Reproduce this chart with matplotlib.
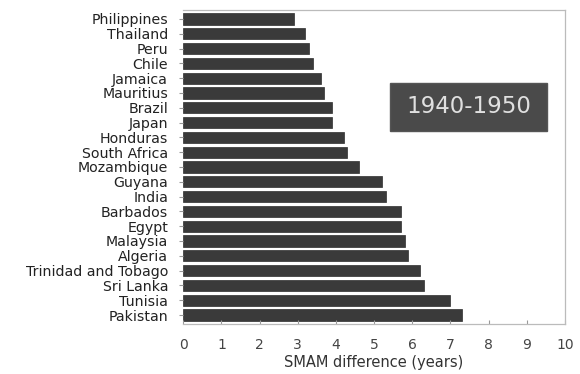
import matplotlib.pyplot as plt
from matplotlib.patches import Rectangle

# Diferencia de SMAM por país, década 1940-1950
paises = ['Philippines', 'Thailand', 'Peru', 'Chile', 'Jamaica', 'Mauritius',
          'Brazil', 'Japan', 'Honduras', 'South Africa', 'Mozambique', 'Guyana',
          'India', 'Barbados', 'Egypt', 'Malaysia', 'Algeria',
          'Trinidad and Tobago', 'Sri Lanka', 'Tunisia', 'Pakistan']
diferencia = [2.9, 3.2, 3.3, 3.4, 3.6, 3.7, 3.9, 3.9, 4.2, 4.3, 4.6, 5.2,
              5.3, 5.7, 5.7, 5.8, 5.9, 6.2, 6.3, 7.0, 7.3]
periodo = '1940-1950'
xticks = list(range(0, 11))

plt.rcParams['font.family'] = ['DejaVu Sans']

fig = plt.figure(figsize=(5.8, 3.74), dpi=100)
ax = fig.add_axes([0.316, 0.134, 0.658, 0.839])

pos = list(range(len(paises)))
ax.barh(pos, diferencia, height=0.76, color='#3a3a3a', edgecolor='#2e2e2e', linewidth=0.5)

ax.set_xlim(0, 10)
ax.set_ylim(len(paises) - 0.4, -0.6)
ax.set_yticks(pos)
ax.set_yticklabels(paises, fontsize=10.2, color='#222222')
ax.set_xticks(xticks)
ax.set_xticklabels([str(t) for t in xticks], fontsize=10, color='#444444')
ax.tick_params(axis='x', direction='in', length=3, color='#999999', pad=10)
ax.tick_params(axis='y', direction='out', length=3, color='#999999', pad=8)
ax.set_xlabel('SMAM difference (years)', fontsize=10.5, color='#333333', labelpad=2)

for lado in ['top', 'right', 'bottom']:
    ax.spines[lado].set_color('#bbbbbb')
    ax.spines[lado].set_linewidth(0.9)
ax.spines['left'].set_visible(False)

# recuadro con el período
ax.add_patch(Rectangle((0.542, 0.615), 0.411, 0.153, transform=ax.transAxes,
                       facecolor='#4a4a4a', edgecolor='#555555', zorder=3))
ax.text(0.7475, 0.692, periodo, transform=ax.transAxes, ha='center', va='center',
        fontsize=16.5, color='#e0e0e0', zorder=4)

fig.savefig('out.png', dpi=100)
